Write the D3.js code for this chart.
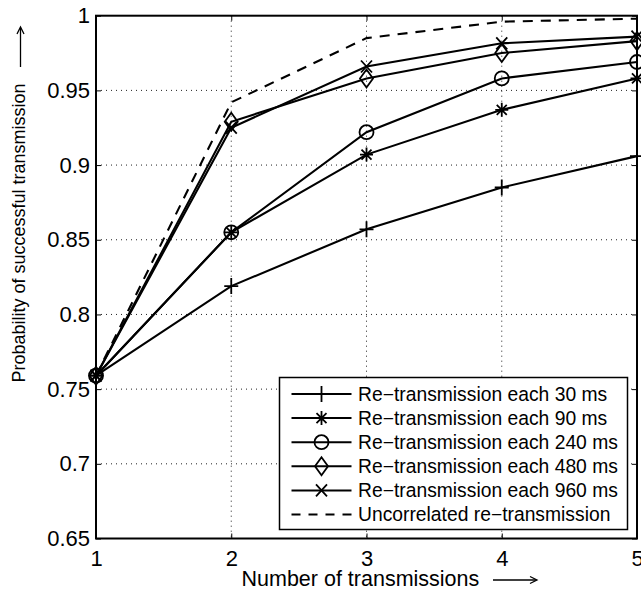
<!DOCTYPE html>
<html>
<head>
<meta charset="utf-8">
<script src="https://cdn.jsdelivr.net/npm/d3@7"></script>
<style>
  html, body { margin: 0; padding: 0; background: #fff; }
  svg { display: block; font-family: "Liberation Sans", Arial, Helvetica, sans-serif; }
</style>
</head>
<body>
<svg id="chart" width="641" height="598"></svg>
<script>
// ---- data ----
const transmissions = [1, 2, 3, 4, 5];
const xTicks = [1, 2, 3, 4, 5];
const yTicks = [0.65, 0.7, 0.75, 0.8, 0.85, 0.9, 0.95, 1];
const yTickLabels = ["0.65", "0.7", "0.75", "0.8", "0.85", "0.9", "0.95", "1"];

const ret30  = [0.759, 0.819, 0.857, 0.885, 0.906];
const ret90  = [0.759, 0.855, 0.907, 0.937, 0.958];
const ret240 = [0.759, 0.855, 0.922, 0.958, 0.969];
const ret480 = [0.759, 0.929, 0.958, 0.975, 0.983];
const ret960 = [0.759, 0.925, 0.966, 0.9815, 0.986];
const uncorrelated = [0.759, 0.942, 0.985, 0.996, 0.998];

const seriesNames = [
  "Re\u2212transmission each 30 ms",
  "Re\u2212transmission each 90 ms",
  "Re\u2212transmission each 240 ms",
  "Re\u2212transmission each 480 ms",
  "Re\u2212transmission each 960 ms",
  "Uncorrelated re\u2212transmission"
];
const seriesMarkers = ["plus", "star", "circle", "diamond", "cross", "none"];
const seriesValues = [ret30, ret90, ret240, ret480, ret960, uncorrelated];

const xTitle = "Number of transmissions";
const yTitle = "Probability of successful transmission";

// ---- layout ----
const svg = d3.select("#chart");
const L = 96, R = 637, T = 15.7, B = 538.5;

const x = d3.scaleLinear().domain([1, 5]).range([L, R]);
const y = d3.scaleLinear().domain([0.65, 1]).range([B, T]);

// grid
const grid = svg.append("g");
grid.selectAll("line.gx").data(xTicks.slice(1, -1)).enter().append("line")
  .attr("x1", d => x(d)).attr("x2", d => x(d)).attr("y1", T).attr("y2", B)
  .attr("stroke", "#222").attr("stroke-width", 1).attr("stroke-dasharray", "1,4");
grid.selectAll("line.gy").data(yTicks.slice(1, -1)).enter().append("line")
  .attr("x1", L).attr("x2", R).attr("y1", d => y(d)).attr("y2", d => y(d))
  .attr("stroke", "#222").attr("stroke-width", 1).attr("stroke-dasharray", "1,4");

// axes
const fmtY = d => yTickLabels[yTicks.indexOf(d)];
const axL = svg.append("g").attr("transform", `translate(${L},0)`)
  .call(d3.axisLeft(y).tickValues(yTicks).tickFormat(fmtY).tickSize(-5).tickPadding(6));
const axR = svg.append("g").attr("transform", `translate(${R},0)`)
  .call(d3.axisRight(y).tickValues(yTicks).tickFormat("").tickSize(-5));
const axB = svg.append("g").attr("transform", `translate(0,${B})`)
  .call(d3.axisBottom(x).tickValues(xTicks).tickFormat(d3.format("d")).tickSize(-5).tickPadding(12));
const axT = svg.append("g").attr("transform", `translate(0,${T})`)
  .call(d3.axisTop(x).tickValues(xTicks).tickFormat("").tickSize(-5));
[axL, axR, axB, axT].forEach(a => {
  a.select(".domain").remove();
  a.selectAll(".tick line").attr("stroke", "#000").attr("stroke-width", 1);
  a.selectAll("text").attr("fill", "#000").style("font-size", "22px")
    .style("font-family", '"Liberation Sans", Arial, sans-serif');
});

// frame
svg.append("rect").attr("x", L).attr("y", T).attr("width", R - L).attr("height", B - T)
  .attr("fill", "none").attr("stroke", "#000").attr("stroke-width", 2);

// marker drawing
function drawMarker(g, type, cx, cy) {
  const s = {stroke: "#000", "stroke-width": 1.8, fill: "none"};
  let p;
  if (type === "plus") {
    p = `M${cx-7},${cy}H${cx+7}M${cx},${cy-8}V${cy+8}`;
  } else if (type === "star") {
    p = `M${cx-6.5},${cy}H${cx+6.5}M${cx},${cy-7}V${cy+7}` +
        `M${cx-5},${cy-5}L${cx+5},${cy+5}M${cx-5},${cy+5}L${cx+5},${cy-5}`;
  } else if (type === "circle") {
    g.append("circle").attr("cx", cx).attr("cy", cy).attr("r", 7)
      .attr("fill", "none").attr("stroke", "#000").attr("stroke-width", 1.8);
    return;
  } else if (type === "diamond") {
    p = `M${cx},${cy-9}L${cx+6.5},${cy}L${cx},${cy+9}L${cx-6.5},${cy}Z`;
  } else if (type === "cross") {
    p = `M${cx-5.5},${cy-6}L${cx+5.5},${cy+6}M${cx-5.5},${cy+6}L${cx+5.5},${cy-6}`;
  } else return;
  const el = g.append("path").attr("d", p);
  Object.entries(s).forEach(([k, v]) => el.attr(k, v));
}

// series
const line = d3.line().x((d, i) => x(transmissions[i])).y(d => y(d));
const plot = svg.append("g");
seriesValues.forEach((vals, si) => {
  plot.append("path").datum(vals).attr("d", line)
    .attr("fill", "none").attr("stroke", "#000").attr("stroke-width", 2.1)
    .attr("stroke-linejoin", "miter")
    .attr("stroke-dasharray", seriesMarkers[si] === "none" ? "10,8" : null);
  vals.forEach((v, i) => drawMarker(plot, seriesMarkers[si], x(transmissions[i]), y(v)));
});

// legend
const lg = svg.append("g");
const lgX = 279.5, lgY = 377.5, lgW = 348, lgH = 152;
lg.append("rect").attr("x", lgX).attr("y", lgY).attr("width", lgW).attr("height", lgH)
  .attr("fill", "#fff").attr("stroke", "#000").attr("stroke-width", 1.5);
seriesNames.forEach((name, i) => {
  const ry = 394 + i * 24.1;
  lg.append("line").attr("x1", 291.5).attr("x2", 351.5).attr("y1", ry).attr("y2", ry)
    .attr("stroke", "#000").attr("stroke-width", 2)
    .attr("stroke-dasharray", seriesMarkers[i] === "none" ? "9,8" : null);
  drawMarker(lg, seriesMarkers[i], 321.5, ry);
  lg.append("text").attr("x", 358).attr("y", ry).attr("dy", "0.36em")
    .style("font-size", "19.3px").attr("fill", "#000").text(name);
});

// axis titles
svg.append("text").attr("x", 241.5).attr("y", 586)
  .style("font-size", "21.5px").attr("fill", "#000").text(xTitle);
svg.append("path").attr("d", "M493,580H536").attr("stroke", "#000").attr("stroke-width", 1.3);
svg.append("path").attr("d", "M530,576.5L537,580L530,583.5").attr("fill", "none")
  .attr("stroke", "#000").attr("stroke-width", 1.3);

svg.append("text").attr("transform", "translate(25,233) rotate(-90)")
  .attr("text-anchor", "middle").style("font-size", "18px").attr("fill", "#000").text(yTitle);
svg.append("path").attr("d", "M20.5,67V28").attr("stroke", "#000").attr("stroke-width", 1.3);
svg.append("path").attr("d", "M17,34L20.5,27L24,34").attr("fill", "none")
  .attr("stroke", "#000").attr("stroke-width", 1.3);
</script>
</body>
</html>
